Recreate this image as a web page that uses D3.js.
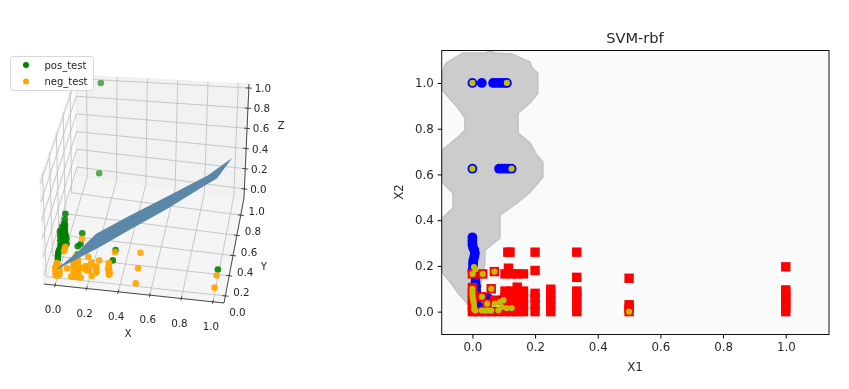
<!DOCTYPE html>
<html><head><meta charset="utf-8">
<script src="https://cdnjs.cloudflare.com/ajax/libs/d3/7.8.5/d3.min.js"></script>
<style>html,body{margin:0;padding:0;background:#fff}svg{display:block;filter:blur(.5px)}text{font-family:"DejaVu Sans",sans-serif;fill:#262626}</style>
</head><body><svg id="c" width="849" height="389"></svg>
<script>
// ---------- right panel data ----------
const tickValues2d=[0,.2,.4,.6,.8,1];
const decisionRegion=[[-.094,1.056],[-.084,1.087],[-.03,1.131],[.04,1.131],[.056,1.14],[.072,1.131],[.126,1.127],[.184,1.092],[.19,1.066],[.209,1.043],[.209,.956],[.184,.912],[.146,.869],[.146,.781],[.184,.737],[.206,.684],[.225,.654],[.225,.588],[.184,.522],[.142,.474],[.088,.422],[.088,.321],[.04,.269],[.04,.212],[.024,.094],[.018,.037],[-.008,.024],[-.017,.037],[-.046,.081],[-.071,.129],[-.097,.172],[-.097,.409],[-.062,.453],[-.062,.518],[-.097,.566],[-.097,.706],[-.046,.763],[-.024,.794],[-.024,.846],[-.046,.89],[-.097,.969]];
const blueClass=[[0,1],[.03,1],[.066,1],[.075,1],[.085,1],[.095,1],[.105,1],[.11,1],[0,.625],[.085,.625],[.095,.625],[.105,.625],[.115,.625],[.125,.625],
[0,.325],[0,.31],[0,.295],[.002,.28],[.006,.27],[.008,.255],[.006,.24],[.003,.225],[.002,.21],[.002,.195],[0,.18],[.008,.165],[.01,.15],[.01,.13],[.012,.11],[.012,.09],[.015,.07],[.015,.05],[.015,.03],[.015,.01],[.05,.06],[.09,.05],[.04,.02]];
const redClass=[[0,0],[0,.02],[0,.04],[0,.06],[0,.08],[0,.105],[0,.165],[.033,.165],[.02,0],[.04,0],[.03,.065],[.047,.035],[.06,0],[.07,.175],[.07,.05],[.08,0],[.06,.1],
[.104,0],[.104,.03],[.104,.06],[.104,.09],[.104,.165],[.115,.19],[.113,.26],[.12,.26],[.125,.165],[.125,0],[.125,.03],[.125,.06],[.125,.09],[.143,0],[.143,.03],[.143,.06],[.143,.09],[.143,.107],[.143,.165],[.163,0],[.163,.03],[.163,.06],[.163,.09],[.163,.165],
[.2,0],[.2,.03],[.2,.06],[.2,.08],[.2,.18],[.2,.26],[.25,0],[.25,.025],[.25,.05],[.25,.075],[.25,.098],
[.333,0],[.333,.02],[.333,.04],[.333,.06],[.333,.08],[.333,.09],[.333,.15],[.333,.26],[.5,0],[.5,.015],[.5,.03],[.5,.146],[1,0],[1,.02],[1,.04],[1,.06],[1,.08],[1,.095],[1,.196]];
const highlighted=[[0,1],[.11,1],[0,.625],[.125,.625],[.005,.195],[.01,.185],[0,.165],[.033,.165],[.07,.175],[.06,.1],[.03,.065],[.047,.035],
[0,.1],[0,.085],[0,.07],[.002,.055],[.004,.04],[.005,.025],[.005,.01],[.01,.005],[.03,.005],[.04,.005],[.05,.005],[.06,.005],[.072,.035],[.088,.043],[.099,.05],[.093,.02],[.083,.006],[.109,.016],[.125,.016],[.5,0]];
// ---------- left panel data ----------
const tickValues3d=[0,.2,.4,.6,.8,1];
const posTest=[[.1,1.14,1],[.1,1.08,.07],[.1,.52,.05],[.1,.46,0],[.09,.42,.02],[.1,.36,0],[.33,.44,0],[.33,.34,0],[1,.36,0],
[0,.24,.1],[0,.26,.12],[0,.28,.12],[0,.32,.1],[0,.36,.08],[0,.39,0],[0,.39,.03],[0,.39,.06],[0,.39,.09],[0,.39,.12],[0,.39,.15],[0,.39,.18],[0,.39,.21],[0,.39,.25],[.01,.36,.2],[.01,.36,.14],[.01,.42,.1],[.01,.42,.15],[.01,.42,.2],[.01,.44,.1],[0,.49,.28],[0,.47,.24],
[-.015,.39,.05],[-.015,.39,.1],[-.015,.39,.15],[-.015,.39,.2],[.015,.39,.05],[.015,.39,.1],[.015,.39,.15],[.015,.39,.2],[.025,.39,.12],[.025,.39,.07],[0,.45,.22],[.005,.43,.22],[0,.47,.18],[-.01,.3,.06],[-.01,.28,.02]];
const negTest=[[0,.2,-.07],[0,.2,-.05],[0,.2,-.03],[0,.2,-.01],[0,.2,.01],[0,.2,.03],[0,.2,.05],[0,.2,.07],[.015,.2,-.05],[.015,.2,-.02],[.015,.2,.01],[.015,.2,.04],[-.01,.2,-.06],[-.01,.2,-.02],[-.01,.2,.02],
[.01,.38,0],[.01,.4,0],[.01,.42,0],[.06,.22,0],[.1,.51,0],
[.12,.2,.16],[.12,.2,.13],[.12,.2,.1],[.12,.2,.07],[.12,.2,.04],[.12,.2,.01],[.12,.2,-.02],[.12,.2,-.05],[.105,.2,.1],[.105,.2,.05],[.105,.2,0],[.135,.2,.12],[.135,.2,.07],[.135,.2,.02],[.135,.2,-.03],[.09,.2,-.06],[.105,.2,-.06],[.135,.2,-.06],[.15,.2,-.06],
[.17,.35,0],[.17,.26,0],[.18,.24,-.02],[.2,.3,0],[.2,.22,0],[.2,.25,.02],[.22,.2,-.03],[.16,.22,.02],
[.25,.2,.075],[.25,.2,.05],[.25,.2,.03],[.25,.2,.01],[.25,.3,.03],
[.33,.2,.125],[.33,.2,.1],[.33,.2,.075],[.33,.2,.05],[.33,.2,.025],[.33,.2,0],[.325,.2,.06],[.335,.2,.02],[.33,.42,0],[.49,.44,0],[.5,.29,0],[.5,.2,-.06],[1,.3,0],[1,.2,-.02]];
const surfaceOutline=[[-.1,.6,-.49],[.05,.6,-.255],[.174,.6,-.03],[.383,.6,.19],[.655,.6,.457],[.889,.6,.68],[1.04,.6,.87],[.95,.6,.66],[.858,.6,.56],[.636,.6,.31],[.402,.6,.06],[.206,.6,-.16],[-.09,.6,-.48]];
const legendItems=[["pos_test","#008000"],["neg_test","#ffa500"]];

const svg=d3.select("#c");
const fmt=d3.format(".1f");
// ---------- right panel ----------
const X=d3.scaleLinear().domain([-.098,1.138]).range([441.7,829]);
const Y=d3.scaleLinear().domain([-.1,1.142]).range([334.5,50.5]);
svg.append("clipPath").attr("id","ax").append("rect").attr("x",441.7).attr("y",50.5).attr("width",387.3).attr("height",284);
svg.append("rect").attr("x",441.7).attr("y",50.5).attr("width",387.3).attr("height",284).attr("fill","#f9fbfb");
const ar=svg.append("g").attr("clip-path","url(#ax)");
ar.append("path").attr("d",d3.line().x(d=>X(d[0])).y(d=>Y(d[1])).curve(d3.curveLinearClosed)(decisionRegion)).attr("fill","#cccccc").attr("stroke","#c0c2ca").attr("stroke-width",1.5);
ar.selectAll(".b").data(blueClass).join("circle").attr("cx",d=>X(d[0])).attr("cy",d=>Y(d[1])).attr("r",4.9).attr("fill","#0000ff");
ar.selectAll(".r").data(redClass).join("rect").attr("x",d=>X(d[0])-4.7).attr("y",d=>Y(d[1])-4.7).attr("width",9.4).attr("height",9.4).attr("fill","#ff0000");
ar.selectAll(".y").data(highlighted).join("circle").attr("cx",d=>X(d[0])).attr("cy",d=>Y(d[1])).attr("r",3.1).attr("fill","#bfbf00");
svg.append("rect").attr("x",441.7).attr("y",50.5).attr("width",387.3).attr("height",284).attr("fill","none").attr("stroke","#111").attr("stroke-width",1);
const gx=svg.append("g").attr("transform","translate(0,334.5)").call(d3.axisBottom(X).tickValues(tickValues2d).tickFormat(fmt).tickSize(4).tickPadding(4));
const gy=svg.append("g").attr("transform","translate(441.7,0)").call(d3.axisLeft(Y).tickValues(tickValues2d).tickFormat(fmt).tickSize(4).tickPadding(4));
[gx,gy].forEach(g=>{g.select(".domain").remove();g.selectAll("text").attr("font-size",11.8).style("font-family","'DejaVu Sans'");g.attr("font-family",null)});
svg.append("text").attr("x",635).attr("y",43).attr("text-anchor","middle").attr("font-size",14.6).text("SVM-rbf");
svg.append("text").attr("x",635).attr("y",371).attr("text-anchor","middle").attr("font-size",11.8).text("X1");
svg.append("text").attr("transform","translate(403,192) rotate(-90)").attr("text-anchor","middle").attr("font-size",11.8).text("X2");
// ---------- left panel: 3D box projected through scales ----------
const U=d3.scaleLinear().domain([-.07,1.07]).range([0,1]);
const V=d3.scaleLinear().domain([.13,1.17]).range([0,1]);
const W=d3.scaleLinear().domain([-.09,1.04]).range([0,1]);
const corners={c000:[44,284],c100:[224,303],c010:[77,175],c110:[244,198],c001:[40,180],c101:[228,188],c011:[76,75],c111:[249,84]};
function proj(x,y,z){const u=U(x),v=V(y),w=W(z);const mix=i=>{
 const l=(a,b,t)=>a+(b-a)*t;
 const b=l(l(corners.c000[i],corners.c100[i],u),l(corners.c010[i],corners.c110[i],u),v);
 const t=l(l(corners.c001[i],corners.c101[i],u),l(corners.c011[i],corners.c111[i],u),v);
 return l(b,t,w)};return [mix(0),mix(1)];}
const [xa,xb]=U.domain(),[ya,yb]=V.domain(),[za,zb]=W.domain();
const a3=svg.append("g");
const pane=(pts,f)=>a3.append("path").attr("d",d3.line().curve(d3.curveLinearClosed)(pts.map(p=>proj(...p)))).attr("fill",f).attr("stroke","#ececec").attr("stroke-width",.8);
pane([[xa,ya,za],[xa,yb,za],[xa,yb,zb],[xa,ya,zb]],"#fafafa");
pane([[xa,yb,za],[xb,yb,za],[xb,yb,zb],[xa,yb,zb]],"#f2f2f2");
pane([[xa,ya,za],[xb,ya,za],[xb,yb,za],[xa,yb,za]],"#f5f5f5");
const seg=(p,q,col,w)=>{const A=proj(...p),B=proj(...q);a3.append("line").attr("x1",A[0]).attr("y1",A[1]).attr("x2",B[0]).attr("y2",B[1]).attr("stroke",col).attr("stroke-width",w)};
const gridC="#c2c2c2";
tickValues3d.forEach(t=>{seg([t,ya,za],[t,yb,za],gridC,.9);seg([t,yb,za],[t,yb,zb],gridC,.9);});
tickValues3d.filter(t=>t>=ya).forEach(t=>{seg([xa,t,za],[xb,t,za],gridC,.9);seg([xa,t,za],[xa,t,zb],gridC,.9);});
tickValues3d.forEach(t=>{seg([xa,yb,t],[xb,yb,t],gridC,.9);seg([xa,ya,t],[xa,yb,t],gridC,.9);});
seg([xa,ya,za],[xb,ya,za],"#333",.9);seg([xb,ya,za],[xb,yb,za],"#333",.9);seg([xb,yb,za],[xb,yb,zb],"#333",.9);
const lab=(s,p,dx,dy,sz)=>{const q=proj(...p);a3.append("text").attr("x",q[0]+dx).attr("y",q[1]+dy).attr("text-anchor","middle").attr("dominant-baseline","central").attr("font-size",sz).text(s)};
tickValues3d.forEach(t=>{
 seg([t,ya-.02,za],[t,ya+.02,za],"#333",.9);lab(fmt(t),[t,ya,za],-2,24,10.3);
 if(t>=ya)seg([xb-.02,t,za],[xb+.02,t,za],"#333",.9);lab(fmt(t),[xb,t,za],16,-4,10.3);
 seg([xb-.02,yb,t],[xb+.02,yb,t],"#333",.9);lab(fmt(t),[xb,yb,t],14,0,10.3);
});
svg.append("text").attr("x",128).attr("y",337).attr("text-anchor","middle").attr("font-size",10.3).text("X");
svg.append("text").attr("x",264).attr("y",270).attr("text-anchor","middle").attr("font-size",10.3).text("Y");
svg.append("text").attr("x",281).attr("y",129).attr("text-anchor","middle").attr("font-size",10.3).text("Z");
const depth=d3.scaleLinear().domain([.2,1.14]).range([.95,.62]);
const dots=(arr,col)=>a3.append("g").selectAll("circle").data(arr).join("circle").attr("cx",d=>proj(...d)[0]).attr("cy",d=>proj(...d)[1]).attr("r",3.3).attr("fill",col).attr("opacity",d=>depth(d[1]));
dots(posTest,"#008000");dots(negTest,"#ffa500");
a3.append("path").attr("d",d3.line().curve(d3.curveLinearClosed)(surfaceOutline.map(p=>proj(...p)))).attr("fill","#5b87a8");
// legend
const lg=svg.append("g");
lg.append("rect").attr("x",10.5).attr("y",56.5).attr("width",83).attr("height",34).attr("rx",2.5).attr("fill","#fff").attr("fill-opacity",.85).attr("stroke","#d8d8d8");
legendItems.forEach((d,i)=>{lg.append("circle").attr("cx",26).attr("cy",65+i*16.5).attr("r",3).attr("fill",d[1]);
 lg.append("text").attr("x",44.5).attr("y",65+i*16).attr("dominant-baseline","central").attr("font-size",10).text(d[0]);});
</script></body></html>
